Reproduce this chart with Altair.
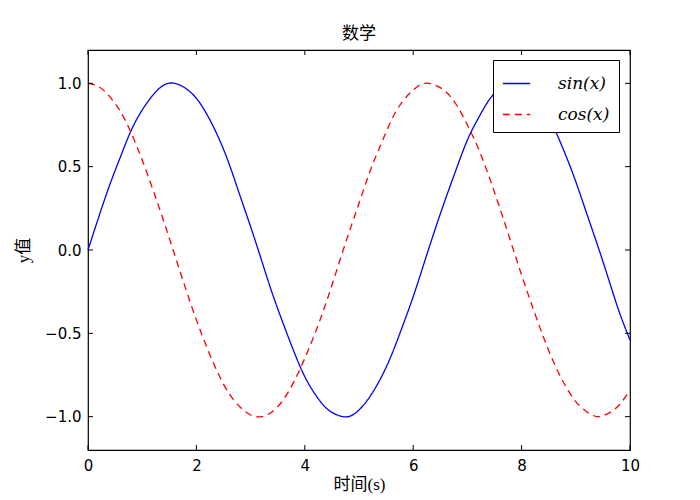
import pandas as pd
import altair as alt

X_VALUES = [
    0.0, 0.2, 0.4, 0.6, 0.8, 1.0, 1.2, 1.4, 1.6, 1.8,
    2.0, 2.2, 2.4, 2.6, 2.8, 3.0, 3.2, 3.4, 3.6, 3.8,
    4.0, 4.2, 4.4, 4.6, 4.8, 5.0, 5.2, 5.4, 5.6, 5.8,
    6.0, 6.2, 6.4, 6.6, 6.8, 7.0, 7.2, 7.4, 7.6, 7.8,
    8.0, 8.2, 8.4, 8.6, 8.8, 9.0, 9.2, 9.4, 9.6, 9.8, 10.0,
]
SIN_VALUES = [
    0.00, 0.20, 0.39, 0.56, 0.72, 0.84, 0.93, 0.99, 1.00, 0.97,
    0.91, 0.81, 0.68, 0.52, 0.33, 0.14, -0.06, -0.26, -0.44, -0.61,
    -0.76, -0.87, -0.95, -0.99, -1.00, -0.96, -0.88, -0.77, -0.63, -0.46,
    -0.28, -0.08, 0.12, 0.31, 0.49, 0.66, 0.79, 0.90, 0.97, 1.00,
    0.99, 0.94, 0.85, 0.73, 0.58, 0.41, 0.22, 0.03, -0.17, -0.37, -0.54,
]
COS_VALUES = [
    1.00, 0.98, 0.92, 0.83, 0.70, 0.54, 0.36, 0.17, -0.03, -0.23,
    -0.42, -0.59, -0.74, -0.86, -0.94, -0.99, -1.00, -0.97, -0.90, -0.79,
    -0.65, -0.49, -0.31, -0.11, 0.09, 0.28, 0.47, 0.63, 0.78, 0.89,
    0.96, 1.00, 0.99, 0.95, 0.87, 0.75, 0.61, 0.44, 0.25, 0.05,
    -0.15, -0.34, -0.52, -0.68, -0.81, -0.91, -0.97, -1.00, -0.98, -0.93, -0.84,
]
SERIES = ["sin(x)", "cos(x)"]
X_TICKS = [0, 2, 4, 6, 8, 10]
Y_TICKS = [-1.0, -0.5, 0.0, 0.5, 1.0]

W, H = 542, 400
CJK = "Liberation Serif, Noto Sans CJK SC"

df = pd.concat([
    pd.DataFrame({"x": X_VALUES, "y": SIN_VALUES, "series": SERIES[0]}),
    pd.DataFrame({"x": X_VALUES, "y": COS_VALUES, "series": SERIES[1]}),
])
xt = pd.DataFrame({"t": X_TICKS})
yt = pd.DataFrame({"t": Y_TICKS})

x_scale = alt.Scale(domain=[0, 10], nice=False, zero=False)
y_scale = alt.Scale(domain=[-1.2, 1.2], nice=False, zero=False)

lines = (
    alt.Chart(df)
    .mark_line(strokeWidth=1.3, interpolate="natural")
    .encode(
        x=alt.X("x:Q", scale=x_scale,
                axis=alt.Axis(values=X_TICKS, format="d", title="时间(s)",
                              ticks=False, domain=False, grid=False,
                              labelFlush=False, labelPadding=8, titlePadding=3)),
        y=alt.Y("y:Q", scale=y_scale,
                axis=alt.Axis(values=Y_TICKS, format=".1f", title="y值",
                              ticks=False, domain=False, grid=False,
                              labelFlush=False, labelPadding=7, titlePadding=12)),
        color=alt.Color(
            "series:N",
            scale=alt.Scale(domain=SERIES, range=["#0000ff", "#ff0000"]),
            legend=alt.Legend(
                title=None, orient="none", legendX=405, legendY=10,
                symbolType="stroke", symbolSize=750, symbolStrokeWidth=1.3,
                labelFont="DejaVu Serif", labelFontStyle="italic",
                labelFontSize=17, labelColor="black", labelOffset=27,
                strokeColor="black", fillColor="white", padding=9,
                cornerRadius=0, rowPadding=8,
            ),
        ),
        strokeDash=alt.StrokeDash(
            "series:N",
            scale=alt.Scale(domain=SERIES, range=[[1, 0], [7, 5]]),
            legend=alt.Legend(title=None),
        ),
    )
)

tick_style = dict(color="black", strokeWidth=1)
bottom = alt.Chart(xt).mark_rule(**tick_style).encode(
    x=alt.X("t:Q", scale=x_scale), y=alt.value(H), y2=alt.value(H - 5))
top = alt.Chart(xt).mark_rule(**tick_style).encode(
    x=alt.X("t:Q", scale=x_scale), y=alt.value(0), y2=alt.value(5))
left = alt.Chart(yt).mark_rule(**tick_style).encode(
    y=alt.Y("t:Q", scale=y_scale), x=alt.value(0), x2=alt.value(5))
right = alt.Chart(yt).mark_rule(**tick_style).encode(
    y=alt.Y("t:Q", scale=y_scale), x=alt.value(W), x2=alt.value(W - 5))

chart = (
    alt.layer(lines, bottom, top, left, right)
    .properties(
        width=W, height=H,
        title=alt.Title("数学", font=CJK, fontSize=17, fontWeight="normal",
                        color="black", anchor="middle", offset=7),
        autosize=alt.AutoSizeParams(type="none"),
        padding={"left": 80, "top": 42, "right": 62, "bottom": 50},
        background="white",
    )
    .configure_view(stroke="black", strokeWidth=1.2)
    .configure_axis(labelFont="DejaVu Sans", labelFontSize=15, labelColor="black",
                    titleFont=CJK, titleFontSize=17, titleFontWeight="normal",
                    titleColor="black")
)

chart.save("out.html", embed_options={"renderer": "svg", "actions": False})
